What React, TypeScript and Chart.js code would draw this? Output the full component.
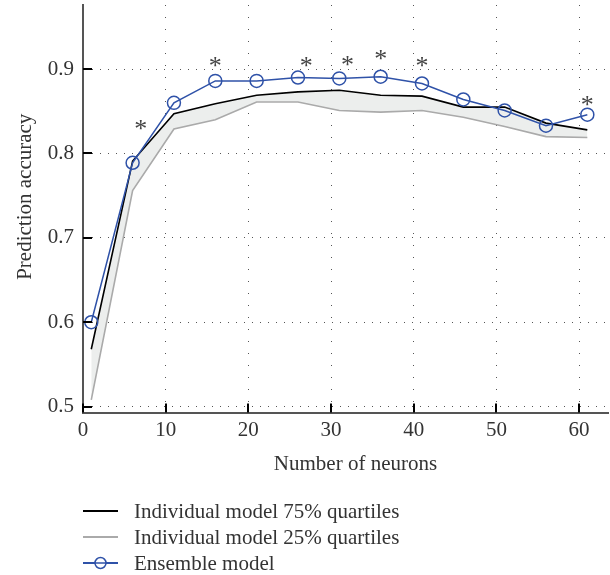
import React, { useEffect, useRef } from "react";
import { Chart, registerables } from "chart.js";

Chart.register(...registerables);

// ---- data ----
const neurons = [1, 6, 11, 16, 21, 26, 31, 36, 41, 46, 51, 56, 61];
const ensembleAcc = [0.600, 0.789, 0.860, 0.886, 0.886, 0.890, 0.889, 0.891, 0.883, 0.864, 0.851, 0.833, 0.846];
const q75Acc = [0.568, 0.791, 0.847, 0.859, 0.869, 0.873, 0.875, 0.869, 0.868, 0.855, 0.855, 0.836, 0.828];
const q25Acc = [0.508, 0.756, 0.829, 0.840, 0.861, 0.861, 0.851, 0.849, 0.851, 0.843, 0.832, 0.820, 0.819];
const sigNeurons = [7, 16, 27, 32, 36, 41, 61];
const sigAcc = [0.834, 0.909, 0.909, 0.910, 0.9165, 0.909, 0.8625];
const xTickValues = [0, 10, 20, 30, 40, 50, 60];
const yTickValues = [0.5, 0.6, 0.7, 0.8, 0.9];
const seriesLabels = ["Individual model 75% quartiles", "Individual model 25% quartiles", "Ensemble model"];
const xTitle = "Number of neurons";
const yTitle = "Prediction accuracy";
const sigMark = "*";

// ---- styles ----
const FONT = '"Liberation Serif", "Times New Roman", serif';
const TEXT = "#333333";
const BLUE = "#2f52a8";
const BLACK = "#000000";
const GREY = "#aaaaaa";
const FILL = "#eceeed";

const decorations = {
  id: "decorations",
  afterDraw(chart: any) {
    const { ctx, chartArea, scales } = chart;
    const xs = scales.x;
    const ys = scales.y;
    ctx.save();
    // inward tick marks
    ctx.strokeStyle = "#000";
    ctx.lineWidth = 2;
    ys.ticks.forEach((t: any) => {
      const py = Math.round(ys.getPixelForValue(t.value));
      ctx.beginPath();
      ctx.moveTo(chartArea.left, py);
      ctx.lineTo(chartArea.left + 9, py);
      ctx.stroke();
    });
    xs.ticks.forEach((t: any) => {
      const px = Math.round(xs.getPixelForValue(t.value));
      ctx.beginPath();
      ctx.moveTo(px, chartArea.bottom);
      ctx.lineTo(px, chartArea.bottom - 9);
      ctx.stroke();
    });

    // significance asterisks
    ctx.fillStyle = "#444";
    ctx.font = `26px ${FONT}`;
    ctx.textAlign = "center";
    ctx.textBaseline = "alphabetic";
    const m = ctx.measureText(sigMark);
    const off = (m.actualBoundingBoxAscent - m.actualBoundingBoxDescent) / 2;
    sigNeurons.forEach((n, i) => {
      ctx.fillText(sigMark, xs.getPixelForValue(n), ys.getPixelForValue(sigAcc[i]) + off);
    });

    // axis titles
    ctx.fillStyle = TEXT;
    ctx.font = `21px ${FONT}`;
    ctx.textAlign = "center";
    ctx.textBaseline = "alphabetic";
    ctx.fillText(xTitle, (chartArea.left + chartArea.right) / 2 + 10, chartArea.bottom + 57);
    ctx.save();
    ctx.translate(31, (chartArea.top + chartArea.bottom) / 2 - 12);
    ctx.rotate(-Math.PI / 2);
    ctx.fillText(yTitle, 0, 0);
    ctx.restore();

    // legend
    const order = [1, 2, 0];
    order.forEach((di, row) => {
      const ds = chart.data.datasets[di];
      const rowY = chartArea.bottom + 98.5 + row * 26;
      const x0 = chartArea.left;
      const x1 = chartArea.left + 35;
      ctx.strokeStyle = ds.borderColor;
      ctx.lineWidth = 2;
      ctx.beginPath();
      ctx.moveTo(x0, rowY);
      ctx.lineTo(x1, rowY);
      ctx.stroke();
      if (ds.pointRadius > 0) {
        ctx.lineWidth = 1.5;
        ctx.beginPath();
        ctx.arc((x0 + x1) / 2, rowY, ds.pointRadius - 1, 0, Math.PI * 2);
        ctx.fillStyle = "#fff";
        ctx.fill();
        ctx.stroke();
        ctx.beginPath();
        ctx.moveTo((x0 + x1) / 2 - ds.pointRadius + 1, rowY);
        ctx.lineTo((x0 + x1) / 2 + ds.pointRadius - 1, rowY);
        ctx.stroke();
      }
      ctx.fillStyle = TEXT;
      ctx.font = `21px ${FONT}`;
      ctx.textAlign = "left";
      ctx.textBaseline = "alphabetic";
      ctx.fillText(ds.label, chartArea.left + 51, rowY + 6.8);
    });
    ctx.restore();
  },
};

export default function App() {
  const ref = useRef<HTMLCanvasElement | null>(null);
  useEffect(() => {
    if (!ref.current) return;
    const chart = new Chart(ref.current, {
      type: "line",
      data: {
        datasets: [
          {
            label: seriesLabels[2],
            data: neurons.map((x, i) => ({ x, y: ensembleAcc[i] })),
            borderColor: BLUE,
            borderWidth: 1.5,
            pointRadius: 6.5,
            pointHoverRadius: 6.5,
            pointBorderWidth: 1.5,
            pointBorderColor: BLUE,
            pointBackgroundColor: "rgba(0,0,0,0)",
            fill: false,
            tension: 0,
          },
          {
            label: seriesLabels[0],
            data: neurons.map((x, i) => ({ x, y: q75Acc[i] })),
            borderColor: BLACK,
            borderWidth: 1.6,
            pointRadius: 0,
            fill: false,
            tension: 0,
          },
          {
            label: seriesLabels[1],
            data: neurons.map((x, i) => ({ x, y: q25Acc[i] })),
            borderColor: GREY,
            borderWidth: 1.6,
            pointRadius: 0,
            backgroundColor: FILL,
            fill: "-1",
            tension: 0,
          },
        ],
      },
      options: {
        animation: false,
        responsive: false,
        devicePixelRatio: 1,
        layout: { autoPadding: false, padding: { left: 0, top: 5, right: 2, bottom: 0 } },
        plugins: { legend: { display: false }, tooltip: { enabled: false } },
        events: [],
        scales: {
          x: {
            type: "linear",
            min: 0,
            max: 63.5,
            afterBuildTicks: (s: any) => {
              s.ticks = xTickValues.map((v) => ({ value: v }));
            },
            afterFit: (s: any) => {
              s.height = 162.5;
              s.paddingLeft = 0;
              s.paddingRight = 0;
            },
            ticks: {
              font: { family: FONT, size: 21 },
              color: TEXT,
              padding: 5,
              maxRotation: 0,
              autoSkip: false,
            },
            grid: { color: "#555", lineWidth: 1, drawTicks: false },
            border: { display: true, color: "#555", width: 2, dash: [1, 11] },
          },
          y: {
            type: "linear",
            min: 0.493,
            max: 0.976,
            afterBuildTicks: (s: any) => {
              s.ticks = yTickValues.map((v) => ({ value: v }));
            },
            afterFit: (s: any) => {
              s.width = 83;
              s.paddingTop = 0;
              s.paddingBottom = 0;
            },
            ticks: {
              font: { family: FONT, size: 21 },
              color: TEXT,
              padding: 9,
              callback: (v: any) => Number(v).toFixed(1),
            },
            grid: { color: "#555", lineWidth: 1, drawTicks: false },
            border: { display: true, color: "#555", width: 2, dash: [1, 7] },
          },
        },
      },
      plugins: [decorations],
    });
    return () => chart.destroy();
  }, []);
  return (
    <div style={{ position: "absolute", left: 0, top: 0, width: 610, height: 575, background: "#fff" }}>
      <canvas ref={ref} width={610} height={575} style={{ display: "block" }} />
    </div>
  );
}
